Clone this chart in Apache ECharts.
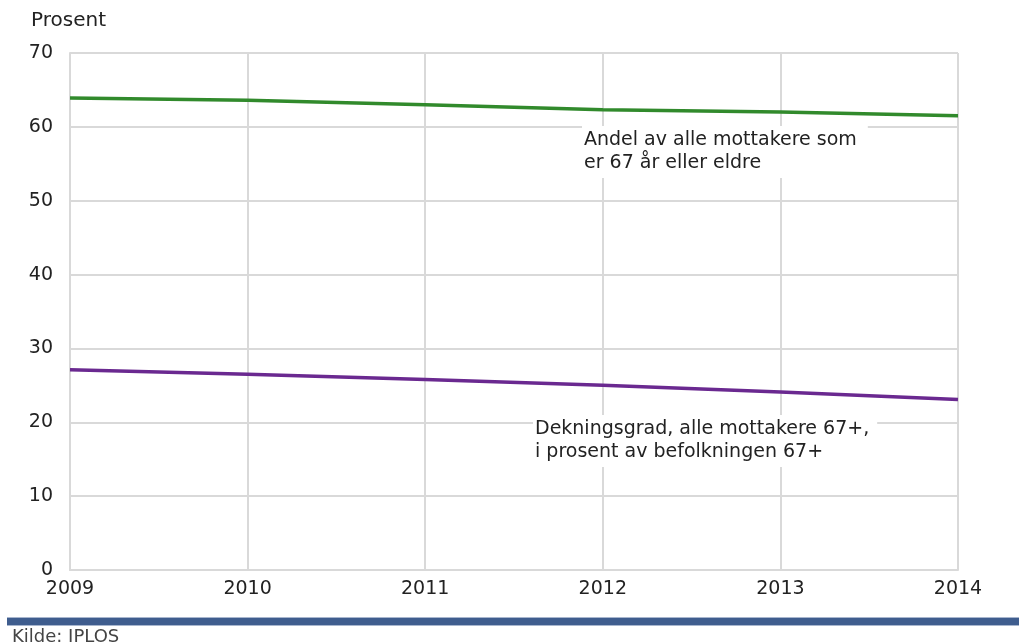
<!DOCTYPE html>
<html>
<head>
<meta charset="utf-8">
<script src="https://cdn.jsdelivr.net/npm/echarts@6/dist/echarts.min.js"></script>
<style>
  html, body { margin: 0; padding: 0; background: #fff; }
  #chart { width: 1019px; height: 643px; }
</style>
</head>
<body>
<div id="chart"></div>
<script>
// Years on the x axis
const years = ['2009', '2010', '2011', '2012', '2013', '2014'];
// Share of all recipients aged 67 or older (percent)
const andel67 = [63.9, 63.6, 63.0, 62.3, 62.0, 61.5];
// Coverage rate: recipients 67+ as percent of population 67+
const dekningsgrad = [27.1, 26.5, 25.8, 25.0, 24.1, 23.1];
// Y axis range
const yMin = 0, yMax = 70, yStep = 10;

const FONT = 'DejaVu Sans';
const gridColor = '#d9d9d9';
const textColor = '#222';

const chart = echarts.init(document.getElementById('chart'), null, { renderer: 'canvas' });

chart.setOption({
  backgroundColor: '#ffffff',
  animation: false,
  textStyle: { fontFamily: FONT },
  grid: { left: 70, right: 61, top: 53, bottom: 73, containLabel: false },
  xAxis: {
    type: 'category',
    data: years,
    boundaryGap: false,
    axisLine: { show: true, lineStyle: { color: gridColor, width: 2 } },
    axisTick: { show: false },
    axisLabel: { color: textColor, fontSize: 19, fontFamily: FONT, margin: 10 },
    splitLine: { show: true, lineStyle: { color: gridColor, width: 2 } }
  },
  yAxis: {
    type: 'value',
    min: yMin, max: yMax, interval: yStep,
    axisLine: { show: true, lineStyle: { color: gridColor, width: 2 } },
    axisTick: { show: false },
    axisLabel: { color: textColor, fontSize: 19, fontFamily: FONT, margin: 17 },
    splitLine: { show: true, lineStyle: { color: gridColor, width: 2 } }
  },
  series: [
    {
      name: 'Andel av alle mottakere som er 67 år eller eldre',
      type: 'line',
      data: andel67,
      symbol: 'none',
      lineStyle: { color: '#318a2c', width: 3.5 },
      z: 5
    },
    {
      name: 'Dekningsgrad, alle mottakere 67+, i prosent av befolkningen 67+',
      type: 'line',
      data: dekningsgrad,
      symbol: 'none',
      lineStyle: { color: '#6a2990', width: 3.5 },
      z: 5
    }
  ],
  graphic: [
    {
      type: 'text', left: 31, top: 11, z: 10,
      style: { text: 'Prosent', fontSize: 20, fontFamily: FONT, fill: textColor }
    },
    {
      type: 'text', x: 582, y: 126, z: 10,
      style: {
        text: 'Andel av alle mottakere som\ner 67 år eller eldre',
        fontSize: 19, fontFamily: FONT, fill: textColor, lineHeight: 23,
        backgroundColor: '#fff', padding: [3, 11, 3, 2]
      }
    },
    {
      type: 'text', x: 533, y: 415, z: 10,
      style: {
        text: 'Dekningsgrad, alle mottakere 67+,\ni prosent av befolkningen 67+',
        fontSize: 19, fontFamily: FONT, fill: textColor, lineHeight: 23,
        backgroundColor: '#fff', padding: [3, 8, 3, 2]
      }
    },
    {
      type: 'rect', z: 10,
      shape: { x: 7, y: 617, width: 1012, height: 9 },
      style: { fill: '#a8b6ce' }
    },
    {
      type: 'rect', z: 11,
      shape: { x: 7, y: 618, width: 1012, height: 7 },
      style: { fill: '#3f5d8e' }
    },
    {
      type: 'text', left: 12, top: 628, z: 10,
      style: { text: 'Kilde: IPLOS', fontSize: 18, fontFamily: FONT, fill: '#444' }
    }
  ]
});
</script>
</body>
</html>
